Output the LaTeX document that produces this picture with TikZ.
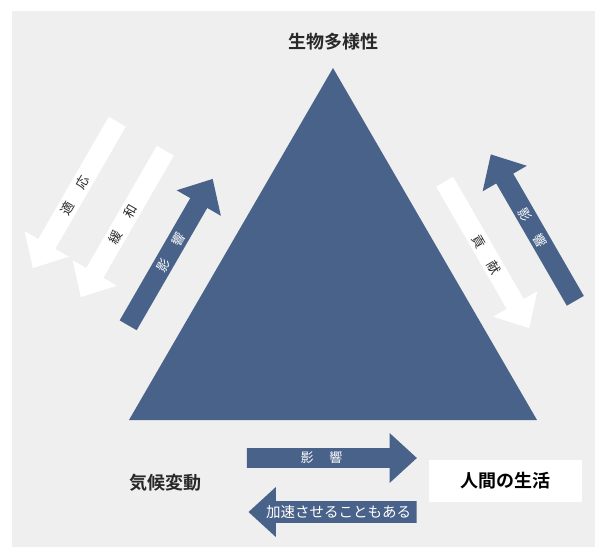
\documentclass[tikz,border=0pt]{standalone}
\usepackage{fontspec}
\newfontfamily\jpfont{Noto Sans CJK JP}[BoldFont={Noto Sans CJK JP Bold}]
\usetikzlibrary{shapes.arrows}
\definecolor{slate}{RGB}{73,98,137}
\definecolor{panel}{RGB}{238,239,238}
\definecolor{ink}{RGB}{40,40,40}
\tikzset{
  blockarrow/.style={single arrow, minimum height=169pt, minimum width=51pt,
    single arrow head extend=15.5pt, single arrow tip angle=85, inner xsep=0pt, inner ysep=3.5pt,
    font=\jpfont\fontsize{13}{15}\selectfont},
  darkarrow/.style={blockarrow, fill=slate, text=white},
  lightarrow/.style={blockarrow, fill=white, text=ink},
  title/.style={font=\jpfont\bfseries\fontsize{18}{20}\selectfont, text=ink}
}
\newcommand{\wgap}{\hspace{17pt}}
\begin{document}
\begin{tikzpicture}[x=1pt, y=-1pt]
    \useasboundingbox (0,0) rectangle (595,547);
    \fill [panel] (12,11) rectangle (595,547);
    % triangle
    \coordinate (apex) at (333,68);
    \coordinate (baseL) at (129,420);
    \coordinate (baseR) at (537,420);
    \fill [slate] (baseL) -- (apex) -- (baseR) -- cycle;
    \node [title] (bio) at (333,42) {生物多様性};
    \node [title] (climate) at (165,483) {気候変動};
    \node [title, fill=white, text=black, minimum width=153pt, minimum height=42pt] (life) at (505.5,481) {人間の生活};
    % left side
    \node [lightarrow, rotate=60, shape border rotate=180] (adapt) at (77.75,190.25) {適\wgap 応\kern11pt};
    \node [lightarrow, rotate=60, shape border rotate=180] (mitig) at (125.75,219.25) {緩\wgap 和\kern11pt};
    \node [darkarrow, rotate=60] (effL) at (167.75,256.75) {\kern11pt 影\wgap 響};
    % right side
    \node [lightarrow, rotate=-60] (contrib) at (484.25,250.25) {\kern11pt 貢\wgap 献};
    \node [darkarrow, rotate=-60, shape border rotate=180] (effR) at (535.75,232.25) {影\wgap 響\kern11pt};
    % bottom
    \node [darkarrow, minimum height=170pt, minimum width=50pt, single arrow head extend=15pt] (effB) at (326.5,458) {影\hspace{16pt}響\kern10pt};
    \node [darkarrow, minimum height=168pt, minimum width=50pt, single arrow head extend=14pt, inner ysep=4pt, shape border rotate=180, font=\jpfont\fontsize{14.5}{16}\selectfont] (accel) at (338.5,512) {加速させることもある};
\end{tikzpicture}
\end{document}
